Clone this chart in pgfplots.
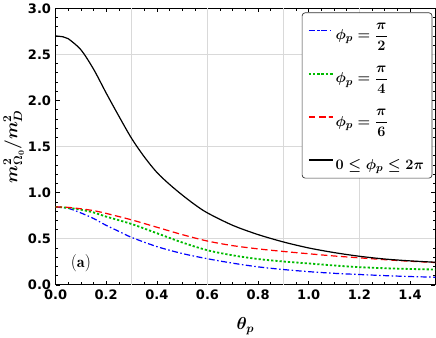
\documentclass[border=0pt]{standalone}
\usepackage{amsmath}
\usepackage{bm}
\usepackage{fontspec}
\setsansfont{DejaVu Sans}
\usepackage{pgfplots}
\pgfplotsset{compat=1.18}
\definecolor{gridgray}{HTML}{D9D9D9}
\definecolor{mgreen}{HTML}{00BB00}
\begin{document}
\begin{tikzpicture}
\begin{axis}[
  scale only axis,
  width=379pt, height=276pt,
  xmin=0, xmax=1.5, ymin=0, ymax=3,
  xtick={0,0.2,...,1.4}, ytick={0,0.5,...,3},
  minor x tick num=3, minor y tick num=4,
  tick align=inside,
  major tick length=4pt, minor tick length=2.5pt,
  axis line style={line width=1.3pt},
  every tick/.style={black, line width=0.6pt},
  /pgf/number format/assume math mode=true,
  /pgf/number format/.cd, fixed, fixed zerofill, precision=1, /pgfplots/.cd,
  tick label style={font=\fontsize{13}{15}\selectfont\sffamily\bfseries},
  yticklabel style={xshift=-1pt},
  xticklabel style={yshift=-1.5pt},
  xlabel={$\boldsymbol{\theta_p}$},
  ylabel={$\boldsymbol{m^2_{\Omega_0}/m^2_D}$},
  label style={font=\fontsize{17}{19}\selectfont},
  xlabel style={at={(axis description cs:0.5,-0.105)}, anchor=north},
  ylabel style={at={(axis description cs:-0.074,0.5)}, anchor=south},
  legend style={at={(0.992,0.985)}, anchor=north east,
    rounded corners=3pt, draw=black!80, line width=0.7pt,
    font=\fontsize{15.5}{17}\selectfont\boldmath,
    nodes={text height=24pt, text depth=6pt, inner ysep=0pt},
    row sep=13pt, inner xsep=6pt, inner ysep=3pt},
  legend cell align=left,
  legend image code/.code={\draw[line width=1.3pt] plot coordinates {(0cm,0cm) (0.45cm,0cm) (0.85cm,0cm)};},
]
\path (axis description cs:-0.1451,-0.1837) (axis description cs:1.0053,1.029);
\draw[gridgray, line width=1.3pt] (axis cs:0.3,0) -- (axis cs:0.3,3)
  (axis cs:0.6,0) -- (axis cs:0.6,3) (axis cs:0.9,0) -- (axis cs:0.9,3)
  (axis cs:1.2,0) -- (axis cs:1.2,3)
  (axis cs:0,0.5) -- (axis cs:1.5,0.5) (axis cs:0,1.5) -- (axis cs:1.5,1.5)
  (axis cs:0,2.5) -- (axis cs:1.5,2.5);
\addplot[blue, line width=1.2pt, dash pattern=on 6pt off 2.5pt on 1.5pt off 2.5pt, smooth] coordinates {
(0,0.845) (0.05,0.83) (0.1,0.78) (0.15,0.72) (0.2,0.645) (0.25,0.58)
(0.3,0.515) (0.4,0.415) (0.5,0.34) (0.6,0.283) (0.7,0.235) (0.8,0.195)
(0.9,0.166) (1.0,0.143) (1.1,0.125) (1.2,0.112) (1.3,0.1) (1.4,0.09) (1.5,0.083)};
\addlegendentry{$\phi_p = \dfrac{\pi}{2}$}
\addplot[mgreen, line width=1.8pt, dash pattern=on 2.2pt off 2pt, smooth] coordinates {
(0,0.845) (0.05,0.835) (0.1,0.815) (0.15,0.785) (0.2,0.74) (0.3,0.66)
(0.4,0.56) (0.5,0.46) (0.6,0.375) (0.7,0.32) (0.8,0.28) (0.9,0.253)
(1.0,0.232) (1.1,0.21) (1.2,0.192) (1.3,0.18) (1.4,0.172) (1.5,0.166)};
\addlegendentry{$\phi_p = \dfrac{\pi}{4}$}
\addplot[red, line width=1.2pt, dash pattern=on 6.5pt off 3.5pt, smooth] coordinates {
(0,0.845) (0.05,0.84) (0.1,0.825) (0.15,0.805) (0.2,0.775) (0.3,0.705)
(0.4,0.625) (0.5,0.545) (0.6,0.475) (0.7,0.425) (0.8,0.39) (0.9,0.362)
(1.0,0.337) (1.1,0.313) (1.2,0.293) (1.3,0.273) (1.4,0.256) (1.5,0.242)};
\addlegendentry{$\phi_p = \dfrac{\pi}{6}$}
\addplot[black, line width=1.2pt, smooth] coordinates {
(0,2.70) (0.03,2.69) (0.05,2.67) (0.1,2.55) (0.15,2.34) (0.2,2.08) (0.25,1.83)
(0.3,1.59) (0.35,1.39) (0.4,1.22) (0.45,1.09) (0.5,0.975) (0.55,0.87)
(0.6,0.78) (0.7,0.645) (0.8,0.545) (0.9,0.465) (1.0,0.40) (1.1,0.35)
(1.2,0.31) (1.3,0.28) (1.4,0.26) (1.5,0.245)};
\addlegendentry{$0 \leq \phi_p \leq 2\pi$}
\node[font=\fontsize{16}{18}\selectfont] at (axis cs:0.1,0.24) {$\mathbf{(a)}$};
\end{axis}
\end{tikzpicture}
\end{document}
